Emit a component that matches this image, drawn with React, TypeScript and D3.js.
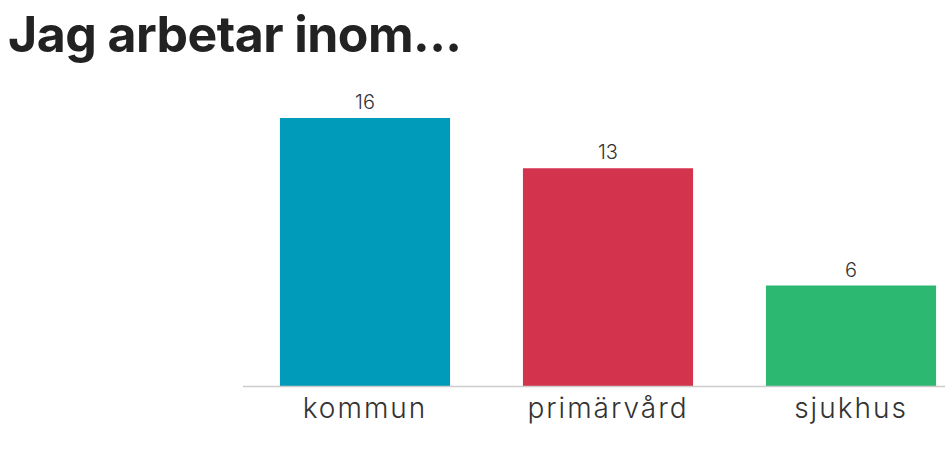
import React from "react";
import * as d3 from "d3";

const categories = ["kommun", "primärvård", "sjukhus"];
const values = [16, 13, 6];
const colors = ["#009bba", "#d3334d", "#2db872"];
const title = "Jag arbetar inom...";

const W = 945;
const H = 452;

export default function App() {
  const x = d3
    .scaleBand<string>()
    .domain(categories)
    .range([243, 973])
    .paddingInner(0.3)
    .paddingOuter(0.152);
  const y = d3.scaleLinear().domain([0, 16]).range([386, 118]);

  return (
    <svg
      width={W}
      height={H}
      style={{ position: "absolute", left: 0, top: 0, display: "block", background: "#fff" }}
    >
      <text
        x={8}
        y={52}
        fontFamily="Inter, 'Open Sans', sans-serif"
        fontWeight={700}
        fontSize={50}
        fill="#222"
        textLength={454}
        lengthAdjust="spacing"
      >
        {title}
      </text>
      {categories.map((c, i) => (
        <g key={c}>
          <rect
            x={x(c)}
            y={y(values[i])}
            width={x.bandwidth()}
            height={y(0) - y(values[i])}
            fill={colors[i]}
          />
          <text
            x={(x(c) as number) + x.bandwidth() / 2}
            y={y(values[i]) - 9}
            textAnchor="middle"
            fontFamily="Inter, sans-serif"
            fontWeight={300}
            fontSize={20}
            fill="#333"
          >
            {values[i]}
          </text>
          <text
            x={(x(c) as number) + x.bandwidth() / 2}
            y={418}
            textAnchor="middle"
            fontFamily="Inter, sans-serif"
            fontWeight={300}
            fontSize={28}
            letterSpacing={2}
            fill="#333"
          >
            {c}
          </text>
        </g>
      ))}
      <line x1={243} x2={W} y1={386.5} y2={386.5} stroke="#ccc" strokeWidth={1.5} />
    </svg>
  );
}
